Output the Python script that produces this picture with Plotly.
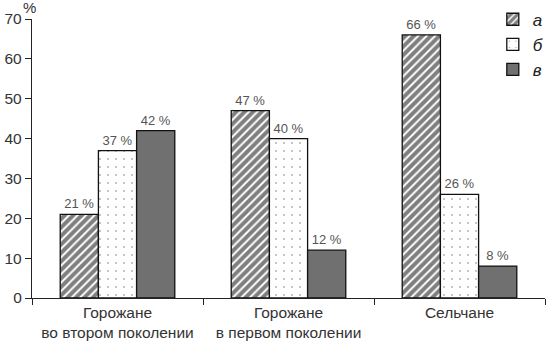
import plotly.graph_objects as go

categories = ["Горожане<br>во втором поколении", "Горожане<br>в первом поколении", "Сельчане"]
series_names = ["а", "б", "в"]
values_a = [21, 47, 66]
values_b = [37, 40, 26]
values_v = [42, 12, 8]
y_ticks = [0, 10, 20, 30, 40, 50, 60, 70]

FONT = "Liberation Sans, Arial, sans-serif"

styles = [
    dict(color="white", pattern=dict(shape="/", fgcolor="black", bgcolor="white", size=6, solidity=0.68, fillmode="overlay")),
    dict(color="white", pattern=dict(shape=".", fgcolor="#555555", bgcolor="white", size=8, solidity=0.04, fillmode="overlay")),
    dict(color="#707070"),
]

fig = go.Figure()
for name, vals, st in zip(series_names, [values_a, values_b, values_v], styles):
    fig.add_trace(go.Bar(
        x=categories, y=vals, name=name,
        text=[f"{v} %" for v in vals], textposition="outside",
        textfont=dict(family=FONT, size=13, color="#555555"),
        cliponaxis=False,
        marker=dict(line=dict(color="#111111", width=1.3), **st),
    ))

fig.update_layout(
    width=550, height=341,
    margin=dict(l=32, r=5, t=19, b=43, autoexpand=False),
    paper_bgcolor="white", plot_bgcolor="white",
    barmode="group", bargap=0.33, bargroupgap=0,
    font=dict(family=FONT, size=15.5, color="#333333"),
    showlegend=True,
    legend=dict(xref="container", yref="container", x=0.896, y=0.995,
                xanchor="left", yanchor="top",
                font=dict(family=FONT, size=17, color="#222222", style="italic"),
                tracegroupgap=0, itemwidth=30, bgcolor="rgba(0,0,0,0)"),
    xaxis=dict(showline=True, linecolor="#222222", linewidth=1.3,
               ticks="outside", tickson="boundaries", ticklen=6, tickcolor="#222222",
               tickwidth=1.3, showgrid=False, tickfont=dict(size=15.5, color="#333333")),
    yaxis=dict(range=[0, 70], tickvals=y_ticks, showline=True, linecolor="#222222",
               linewidth=1.3, ticks="outside", ticklen=6, tickcolor="#222222", tickwidth=1.3,
               showgrid=False, zeroline=False, tickfont=dict(size=15.5, color="#333333")),
    annotations=[dict(text="%", xref="paper", yref="paper", x=-0.005, y=1.0, yshift=1,
                      xanchor="center", yanchor="bottom", showarrow=False,
                      font=dict(size=15, color="#333333"))],
)

fig.write_html("out.html", config={"displayModeBar": False},
               post_script="document.body.style.margin='0';document.body.style.overflow='hidden';")
